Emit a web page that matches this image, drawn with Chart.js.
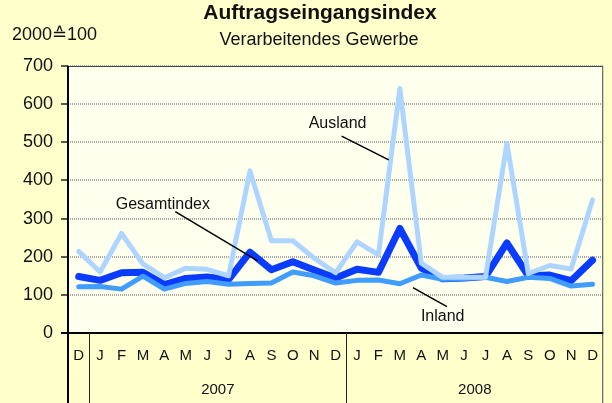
<!DOCTYPE html>
<html lang="de">
<head>
  <meta charset="UTF-8" />
  <title>Auftragseingangsindex</title>
  <script src="https://cdn.jsdelivr.net/npm/chart.js"></script>
  <style>
    html, body { margin: 0; padding: 0; background: #ffffcc; }
    canvas { display: block; }
  </style>
</head>
<body>

<canvas id="chart" width="612" height="403"></canvas>

<script>
// Monate Dez 2006 bis Dez 2008
const months = ['D','J','F','M','A','M','J','J','A','S','O','N','D','J','F','M','A','M','J','J','A','S','O','N','D'];
const ausland = [214, 160, 261, 181, 145, 170, 167, 150, 425, 242, 242, 196, 158, 239, 205, 641, 183, 146, 146, 146, 497, 156, 177, 168, 349];
const gesamt  = [148, 138, 158, 159, 127, 143, 147, 140, 212, 166, 187, 165, 144, 167, 159, 274, 170, 142, 144, 148, 236, 150, 152, 137, 191];
const inland  = [121, 122, 115, 149, 115, 130, 135, 128, 130, 131, 160, 150, 131, 138, 139, 129, 152, 141, 143, 146, 135, 146, 143, 123, 128];

const years = ['2007', '2008'];
const yearFirst = [1, 13];
const yearLast = [12, 24];

const yMin = 0, yMax = 700, yStep = 100;

const FONT = "'Liberation Sans', Arial, sans-serif";

// Beschriftungen mit Linie, in Datenkoordinaten (Index, Wert)
const notes = [
  { text: 'Ausland',     tx: 12.09, ty: 537, from: [12.28, 516], to: [14.48, 454] },
  { text: 'Gesamtindex', tx: 3.93,  ty: 325, from: [4.51, 318],  to: [8.36, 189] },
  { text: 'Inland',      tx: 17.0,  ty: 32,  from: [15.61, 119], to: [17.2, 69] }
];

const decor = {
  id: 'decor',
  beforeDraw(chart) {
    const { ctx, chartArea: a } = chart;
    ctx.save();
    ctx.fillStyle = '#ffffcc';
    ctx.fillRect(0, 0, chart.width, chart.height);
    ctx.fillStyle = '#ffffee';
    ctx.fillRect(a.left, a.top, a.right - a.left, a.bottom - a.top);
    ctx.restore();
  },
  afterDraw(chart) {
    const { ctx, chartArea: a, scales: { x, y } } = chart;
    const H = chart.height;
    ctx.save();

    // Rahmen oben / rechts
    ctx.strokeStyle = '#444';
    ctx.lineWidth = 1;
    ctx.beginPath();
    ctx.moveTo(a.left, a.top + 0.5);
    ctx.lineTo(a.right - 0.5, a.top + 0.5);
    ctx.lineTo(a.right - 0.5, H);
    ctx.stroke();

    // Achsen
    ctx.strokeStyle = '#000';
    ctx.lineWidth = 2;
    ctx.beginPath();
    ctx.moveTo(a.left, a.top);
    ctx.lineTo(a.left, H);
    ctx.moveTo(a.left - 7, a.bottom);
    ctx.lineTo(a.right, a.bottom);
    ctx.stroke();

    // Trennlinien zwischen den Jahren
    ctx.strokeStyle = '#222';
    ctx.lineWidth = 1;
    const edge = i => (x.getPixelForValue(i) + x.getPixelForValue(i + 1)) / 2;
    ctx.beginPath();
    yearFirst.forEach(i => {
      const px = Math.round(edge(i - 1)) + 0.5;
      ctx.moveTo(px, a.bottom);
      ctx.lineTo(px, H);
    });
    ctx.stroke();

    // Jahreszahlen
    ctx.fillStyle = '#111';
    ctx.font = '15px ' + FONT;
    ctx.textAlign = 'center';
    ctx.textBaseline = 'middle';
    years.forEach((yr, k) => {
      const cx = (edge(yearFirst[k] - 1) + edge(yearLast[k])) / 2;
      ctx.fillText(yr, cx, 390);
    });

    // Titel
    ctx.textBaseline = 'alphabetic';
    ctx.font = 'bold 21px ' + FONT;
    ctx.fillText('Auftragseingangsindex', 320, 19);
    ctx.font = '18px ' + FONT;
    ctx.fillText('Verarbeitendes Gewerbe', 319, 45);
    ctx.textAlign = 'left';
    ctx.fillText('2000\u2259100', 12, 40);

    // Reihenbeschriftungen
    ctx.font = '16px ' + FONT;
    ctx.textAlign = 'center';
    ctx.strokeStyle = '#000';
    ctx.lineWidth = 1.5;
    notes.forEach(n => {
      ctx.fillText(n.text, x.getPixelForValue(n.tx), y.getPixelForValue(n.ty));
      ctx.beginPath();
      ctx.moveTo(x.getPixelForValue(n.from[0]), y.getPixelForValue(n.from[1]));
      ctx.lineTo(x.getPixelForValue(n.to[0]), y.getPixelForValue(n.to[1]));
      ctx.stroke();
    });

    ctx.restore();
  }
};

const line = (label, data, color, width, order) => ({
  label, data, order,
  borderColor: color,
  backgroundColor: color,
  borderWidth: width,
  pointRadius: 0,
  tension: 0,
  borderJoinStyle: 'round',
  borderCapStyle: 'round',
  fill: false
});

new Chart(document.getElementById('chart'), {
  type: 'line',
  data: {
    labels: months,
    datasets: [
      line('Ausland', ausland, '#aed5ff', 5, 0),
      line('Inland', inland, '#409dff', 5, 1),
      line('Gesamtindex', gesamt, '#0a3cff', 7, 2)
    ]
  },
  options: {
    responsive: false,
    animation: false,
    events: [],
    layout: { padding: { top: 66, right: 2, left: 0, bottom: 0 } },
    plugins: { legend: { display: false }, tooltip: { enabled: false } },
    scales: {
      x: {
        offset: true,
        grid: { display: false, drawTicks: false },
        border: { display: false },
        ticks: {
          autoSkip: false, maxRotation: 0, padding: 14,
          color: '#111', font: { family: FONT, size: 15 }
        },
        afterFit: s => { s.height = 70; }
      },
      y: {
        min: yMin, max: yMax,
        grid: {
          color: '#a8a8a8', lineWidth: 2,
          tickLength: 7, tickColor: '#222', tickWidth: 1.5, tickBorderDash: []
        },
        border: { display: false, dash: [1, 1] },
        ticks: {
          stepSize: yStep, padding: 8,
          color: '#111', font: { family: FONT, size: 18 }
        },
        afterFit: s => { s.width = 68; }
      }
    }
  },
  plugins: [decor]
});
</script>

</body>
</html>
